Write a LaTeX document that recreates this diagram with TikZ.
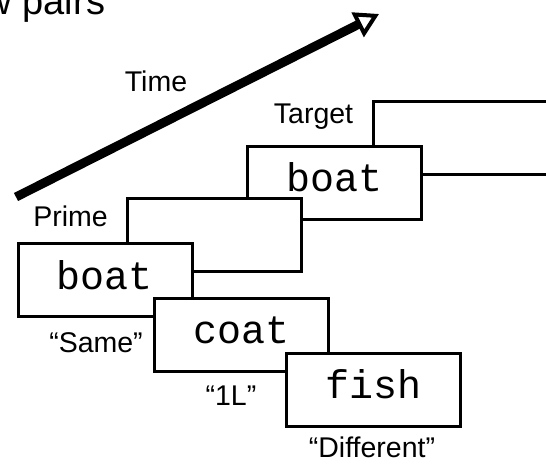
\documentclass[tikz,border=0pt]{standalone}
\usepackage{fontspec}
\setmainfont{Liberation Sans}
\newfontfamily\boxmono{Liberation Mono}
\usetikzlibrary{arrows.meta}
\tikzset{
  x=1pt,y=1pt,
  wordbox/.style={draw=black, fill=white, line width=3pt, rectangle,
    minimum width=174pt, minimum height=73pt, inner sep=0pt, outer sep=0pt,
    font=\boxmono\fontsize{40}{42}\selectfont, text height=18pt, text depth=0pt},
  lbl/.style={inner sep=0pt, anchor=base, font=\fontsize{28.5}{30}\selectfont},
  timearrow/.style={line width=9pt, line cap=butt,
    -{Triangle[open, length=24pt, width=27pt, line width=4pt]}}
}
\begin{document}
\begin{tikzpicture}
\useasboundingbox (0,0) rectangle (546,466);
\begin{scope}
\clip (0,0) rectangle (546,466);
% top-left heading, partly cut off
\node[inner sep=0pt, anchor=base west, font=\fontsize{38}{40}\selectfont] (head) at (-15.5,451) {w pairs};
% boxes, back to front
\node[wordbox, minimum width=210pt] (tgtblank) at (478,328) {};
\node[wordbox] (tgtword) at (334.5,283) {boat};
\node[wordbox] (primeblank) at (214.5,231) {};
\node[wordbox] (primeword) at (105,185.5) {boat};
\node[wordbox] (coat) at (241.5,131) {coat};
\node[wordbox] (fish) at (373.5,76) {fish};
% labels
\node[lbl] (time) at (156,374) {Time};
\node[lbl] (target) at (313.5,342) {Target};
\node[lbl] (prime) at (70.5,239) {Prime};
\node[lbl] (same) at (96,113) {“Same”};
\node[lbl] (oneL) at (231,60) {“1L”};
\node[lbl] (diff) at (372,9) {“Different”};
% time arrow
\coordinate (tstart) at (16,269);
\coordinate (tend) at (379,452);
\draw[timearrow] (tstart) -- (tend);
\end{scope}
\end{tikzpicture}
\end{document}
